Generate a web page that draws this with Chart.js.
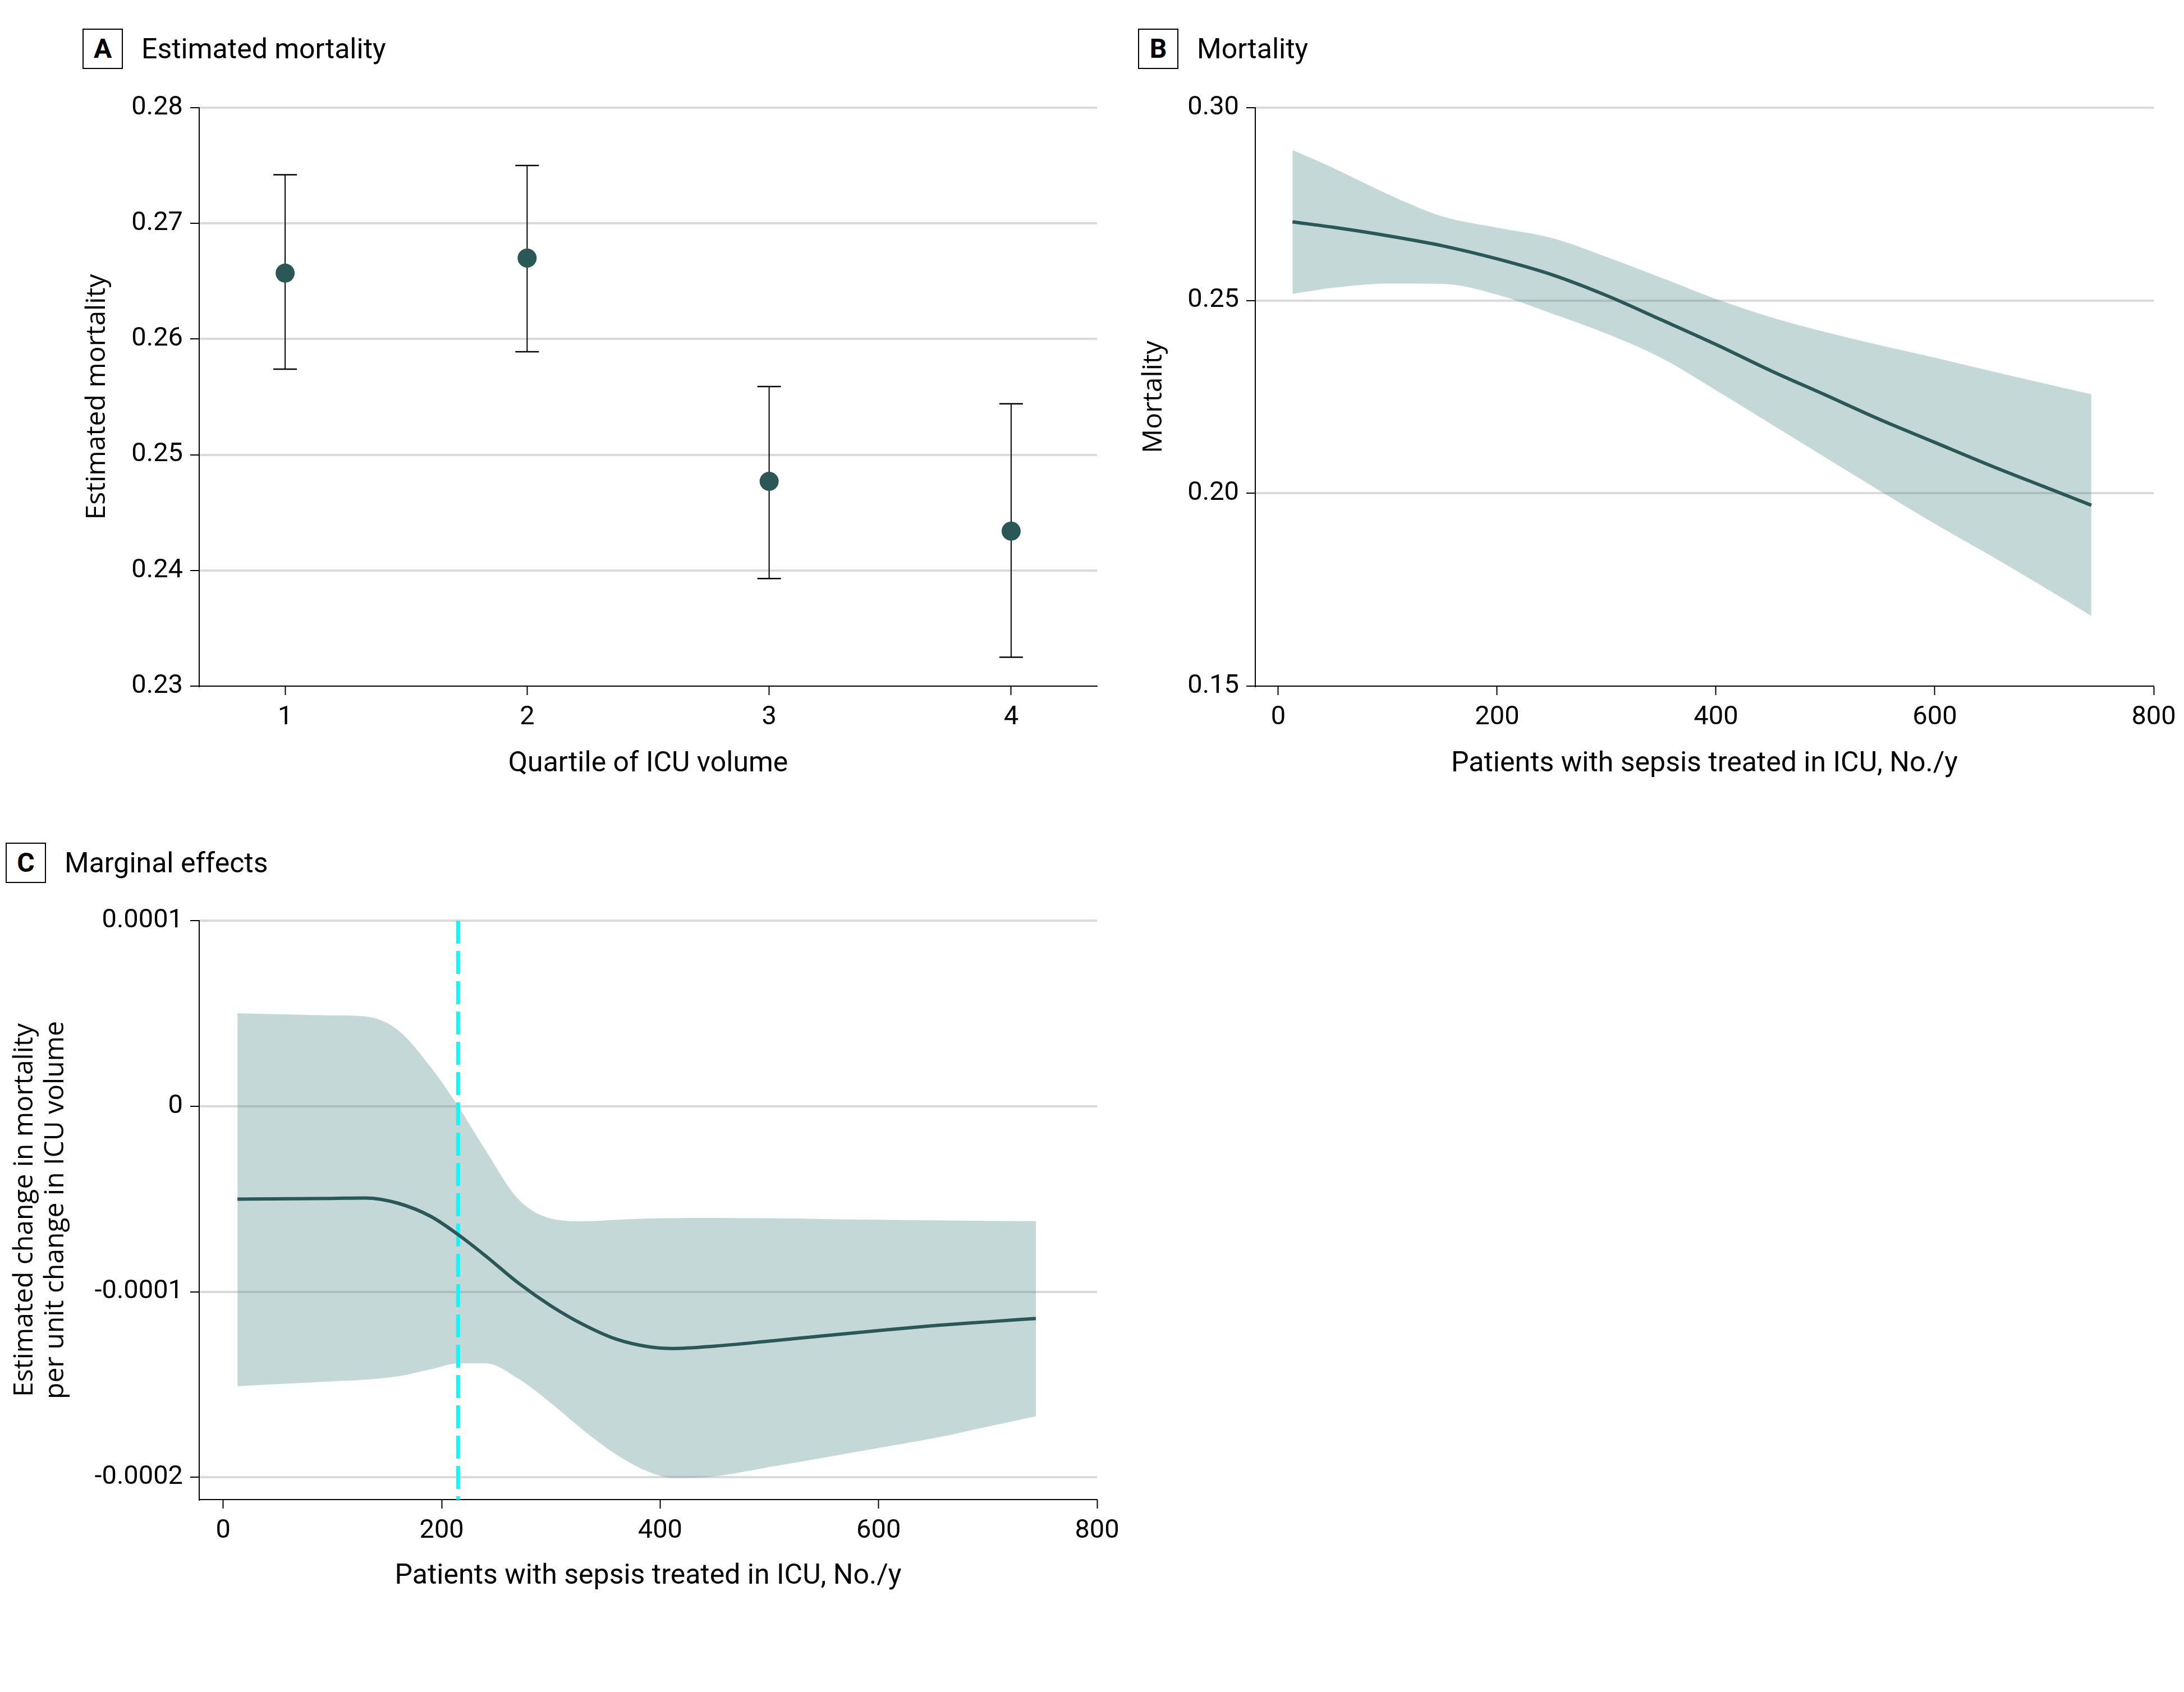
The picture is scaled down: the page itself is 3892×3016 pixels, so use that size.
<!DOCTYPE html>
<html>
<head>
<meta charset="utf-8">
<script src="https://cdn.jsdelivr.net/npm/chart.js@4.4.1/dist/chart.umd.min.js"></script>
<style>
  body { margin: 0; background: #fff; width: 3892px; height: 3016px; position: relative; overflow: hidden; }
  .box { position: absolute; }
  .hdr { position: absolute; display: flex; align-items: center; font-family: Roboto, sans-serif; font-size: 50px; color: #000; }
  .hdr b { display: inline-block; width: 68px; height: 68px; border: 2px solid #000; text-align: center; line-height: 68px; font-size: 48px; margin-right: 33px; }
  .hdr span { line-height: 1; }
</style>
</head>
<body>
<div class="hdr" style="left:147px;top:51px"><b>A</b><span>Estimated mortality</span></div>
<div class="hdr" style="left:2028px;top:51px"><b>B</b><span>Mortality</span></div>
<div class="hdr" style="left:10px;top:1502px"><b>C</b><span>Marginal effects</span></div>

<div class="box" style="left:0;top:150px"><canvas id="chartA" width="1990" height="1270"></canvas></div>
<div class="box" style="left:1990px;top:150px"><canvas id="chartB" width="1902" height="1270"></canvas></div>
<div class="box" style="left:0;top:1600px"><canvas id="chartC" width="2040" height="1300"></canvas></div>

<script>
// A: estimated mortality by quartile (point + 95% CI)
var quartiles = [1, 2, 3, 4];
var quartileLabels = ['1', '2', '3', '4'];
var estMortality = [0.2657, 0.2670, 0.2477, 0.2434];
var estLower = [0.2574, 0.2589, 0.2393, 0.2325];
var estUpper = [0.2742, 0.2750, 0.2559, 0.2544];
var mortTicksA = [0.23, 0.24, 0.25, 0.26, 0.27, 0.28];
var mortLabelsA = ['0.23', '0.24', '0.25', '0.26', '0.27', '0.28'];

// B: mortality vs volume
var volB = [13, 50, 100, 150, 200, 250, 300, 350, 400, 450, 500, 550, 600, 650, 700, 743];
var mortB = [0.2704, 0.2690, 0.2668, 0.2642, 0.2608, 0.2567, 0.2513, 0.2450, 0.2386, 0.2318, 0.2255, 0.2191, 0.2132, 0.2073, 0.2017, 0.1969];
var mortBHigh = [0.2890, 0.2844, 0.2776, 0.2718, 0.2689, 0.2662, 0.2613, 0.2559, 0.2504, 0.2457, 0.2418, 0.2384, 0.2352, 0.2318, 0.2285, 0.2257];
var mortBLow = [0.2517, 0.2533, 0.2544, 0.2543, 0.2515, 0.2466, 0.2414, 0.2351, 0.2267, 0.2180, 0.2093, 0.2006, 0.1921, 0.1840, 0.1756, 0.1682];
var mortTicksB = [0.15, 0.20, 0.25, 0.30];
var mortLabelsB = ['0.15', '0.20', '0.25', '0.30'];

var volTicks = [0, 200, 400, 600, 800];
var volLabels = ['0', '200', '400', '600', '800'];

// C: marginal effects
var volC = [13, 60, 100, 130, 160, 190, 215, 240, 270, 300, 330, 360, 390, 412, 450, 500, 550, 600, 650, 700, 744];
var margC = [-0.0000501, -0.0000499, -0.0000497, -0.0000495, -0.0000523, -0.0000594, -0.0000692, -0.0000806, -0.0000952, -0.0001076, -0.0001178, -0.0001256, -0.0001297, -0.0001306, -0.0001293, -0.0001266, -0.0001237, -0.0001209, -0.0001183, -0.0001162, -0.0001144];
var margCHigh = [0.0000501, 0.0000494, 0.0000489, 0.0000484, 0.0000410, 0.0000210, 0, -0.0000236, -0.0000500, -0.0000605, -0.0000620, -0.0000612, -0.0000605, -0.0000603, -0.0000602, -0.0000604, -0.0000608, -0.0000612, -0.0000615, -0.0000618, -0.0000620];
var margCLow = [-0.0001509, -0.0001495, -0.0001483, -0.0001474, -0.0001456, -0.0001418, -0.0001386, -0.0001385, -0.0001468, -0.0001600, -0.0001748, -0.0001878, -0.0001972, -0.0002003, -0.0001995, -0.0001945, -0.0001894, -0.0001842, -0.0001790, -0.0001727, -0.0001671];
var margTicks = [-0.0002, -0.0001, 0, 0.0001];
var margLabels = ['-0.0002', '-0.0001', '0', '0.0001'];
var cutoffVolume = 215;

var lineColor = '#2B5757';
var bandColor = 'rgba(62, 125, 125, 0.3)';

Chart.defaults.font.family = 'Roboto, "Liberation Sans", sans-serif';
Chart.defaults.color = '#000';
Chart.defaults.animation = false;
Chart.defaults.plugins.legend.display = false;
Chart.defaults.plugins.tooltip.enabled = false;

function pts(xs, ys) {
    return xs.map(function (x, i) { return { x: x, y: ys[i] }; });
}

function yAxis(min, max, vals, labels, title, width, titlePad, titleLH) {
    return {
        type: 'linear', min: min, max: max,
        afterFit: function (s) { s.width = width; s.paddingTop = 0; s.paddingBottom = 0; },
        afterBuildTicks: function (s) { s.ticks = vals.map(function (v) { return { value: v }; }); },
        ticks: { padding: 13, font: { size: 47 }, callback: function (v, i) { return labels[i]; } },
        grid: {
            color: function (ctx) { return ctx.tick && ctx.tick.value === min ? 'rgba(0,0,0,0)' : '#dadada'; },
            lineWidth: 4, tickLength: 16, tickColor: '#000', tickWidth: 2
        },
        border: { color: '#000', width: 2 },
        title: { display: true, text: title, font: { family: '"Open Sans", sans-serif', size: 48, lineHeight: titleLH }, padding: { top: titlePad, bottom: 0 } }
    };
}

function xAxis(min, max, vals, labels, title, height, tickPad, titlePad) {
    return {
        type: 'linear', min: min, max: max,
        afterFit: function (s) { s.height = height; s.paddingLeft = 0; s.paddingRight = 0; },
        afterBuildTicks: function (s) { s.ticks = vals.map(function (v) { return { value: v }; }); },
        ticks: { padding: tickPad, font: { size: 47 }, maxRotation: 0, autoSkip: false, callback: function (v, i) { return labels[i]; } },
        grid: { drawOnChartArea: false, tickLength: 16, tickColor: '#000', tickWidth: 2 },
        border: { color: '#000', width: 2 },
        title: { display: true, text: title, font: { size: 50, lineHeight: 1.2 }, padding: { top: 0, bottom: titlePad } }
    };
}

// panel A
var dsA = [{
    data: pts(quartiles, estMortality),
    showLine: false,
    pointRadius: 17,
    pointBackgroundColor: lineColor,
    pointBorderWidth: 0
}];
quartiles.forEach(function (q, i) {
    dsA.push({
        data: [{ x: q, y: estLower[i] }, { x: q, y: estUpper[i] }],
        borderColor: '#000',
        borderWidth: 2,
        pointStyle: 'line',
        pointRadius: 21,
        pointBorderColor: '#000',
        pointBorderWidth: 2.5
    });
});

new Chart(document.getElementById('chartA'), {
    type: 'line',
    data: { datasets: dsA },
    options: {
        responsive: false,
        layout: { padding: { left: 0, top: 42, right: 35, bottom: 0 } },
        scales: {
            x: xAxis(0.645, 4.355, quartiles, quartileLabels, 'Quartile of ICU volume', 197, 12, 28),
            y: yAxis(0.23, 0.28, mortTicksA, mortLabelsA, 'Estimated mortality', 355, 145, 1.2)
        }
    }
});

// panel B
new Chart(document.getElementById('chartB'), {
    type: 'line',
    data: {
        datasets: [{
            data: pts(volB, mortB),
            borderColor: lineColor, borderWidth: 6, pointRadius: 0,
            cubicInterpolationMode: 'monotone'
        }, {
            data: pts(volB, mortBHigh),
            borderWidth: 0, borderColor: 'rgba(0,0,0,0)', pointRadius: 0,
            cubicInterpolationMode: 'monotone'
        }, {
            data: pts(volB, mortBLow),
            borderWidth: 0, borderColor: 'rgba(0,0,0,0)', pointRadius: 0,
            cubicInterpolationMode: 'monotone',
            fill: '-1', backgroundColor: bandColor
        }]
    },
    options: {
        responsive: false,
        layout: { padding: { left: 0, top: 42, right: 54, bottom: 0 } },
        scales: {
            x: xAxis(-21, 800, volTicks, volLabels, 'Patients with sepsis treated in ICU, No./y', 197, 12, 28),
            y: yAxis(0.15, 0.30, mortTicksB, mortLabelsB, 'Mortality', 247, 38, 1.2)
        }
    }
});

// panel C
var yMinC = -0.000212, yMaxC = 0.0001;
new Chart(document.getElementById('chartC'), {
    type: 'line',
    data: {
        datasets: [{
            data: pts(volC, margC),
            borderColor: lineColor, borderWidth: 6, pointRadius: 0,
            cubicInterpolationMode: 'monotone'
        }, {
            data: [{ x: cutoffVolume, y: yMaxC }, { x: cutoffVolume, y: yMinC }],
            borderColor: '#00FFFF', borderWidth: 7, borderDash: [41, 13], pointRadius: 0
        }, {
            data: pts(volC, margCHigh),
            borderWidth: 0, borderColor: 'rgba(0,0,0,0)', pointRadius: 0,
            cubicInterpolationMode: 'monotone'
        }, {
            data: pts(volC, margCLow),
            borderWidth: 0, borderColor: 'rgba(0,0,0,0)', pointRadius: 0,
            cubicInterpolationMode: 'monotone',
            fill: '-1', backgroundColor: bandColor
        }]
    },
    options: {
        responsive: false,
        layout: { padding: { left: 0, top: 41, right: 85, bottom: 0 } },
        scales: {
            x: xAxis(-22, 800, volTicks, volLabels, 'Patients with sepsis treated in ICU, No./y', 227, 12, 60),
            y: yAxis(yMinC, yMaxC, margTicks, margLabels, ['Estimated change in mortality', 'per unit change in ICU volume'], 355, 17, 1.146)
        }
    }
});
</script>
</body>
</html>
